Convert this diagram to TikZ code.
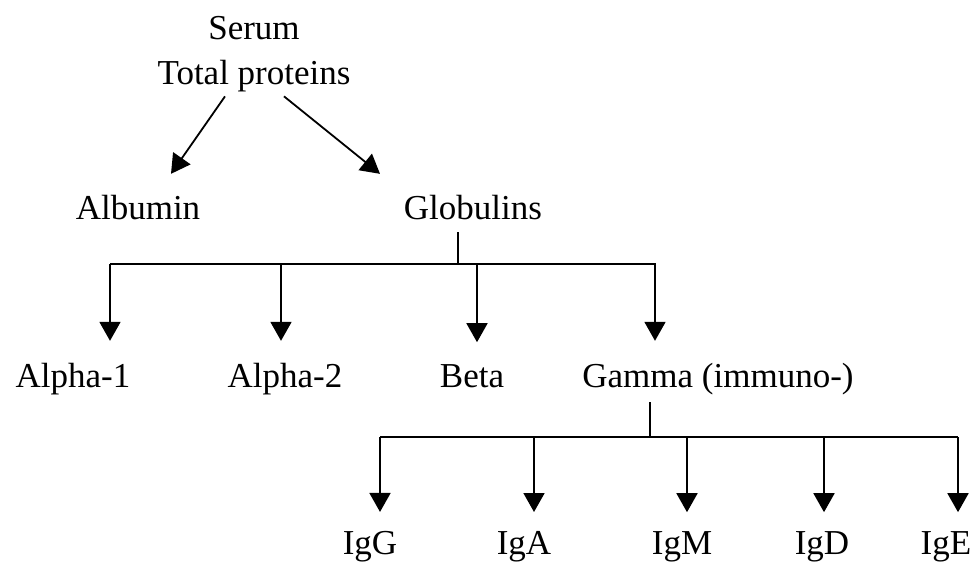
\documentclass[tikz,border=0pt]{standalone}
\usepackage{fontspec}
\setmainfont{Liberation Serif}
\usetikzlibrary{arrows.meta}
\begin{document}
\begin{tikzpicture}[x=1pt, y=-1pt, line width=1.8pt,
    every node/.style={inner sep=0pt, anchor=base, font=\fontsize{35}{45}\selectfont},
    arr/.style={-{Triangle[length=19pt, width=21pt]}, shorten >=21pt}]
    \useasboundingbox (0,0) rectangle (973,562);
    % ===== top: serum total proteins =====
    \node[align=center] (top) at (254,84) {Serum\\Total proteins};
    \node (alb) at (138,219) {Albumin};
    \node (glob) at (473,219) {Globulins};
    \draw[arr, shorten >=0pt] (225,0 |- top.south) ++(0,4) -- ([xshift=33pt,yshift=20pt]alb.north);
    \draw[arr, shorten >=0pt] (284,0 |- top.south) ++(0,4) -- ([xshift=-93pt,yshift=20pt]glob.north);

    % ===== globulin fractions =====
    \node (a1) at (73,387) {Alpha-1};
    \node (a2) at (285,387) {Alpha-2};
    \node (be) at (472,387) {Beta};
    \node (ga) at (718,387) {Gamma (immuno-)};
    \coordinate (gbus) at (458,264);
    \draw (458,0 |- glob.south) ++(0,12) -- (gbus);
    \draw (110,264) -- (656,264);
    \foreach \n/\x in {a1/110, a2/281, be/477, ga/655}
        \draw[arr] (\x,264) -- (\x,0 |- \n.north);

    % ===== immunoglobulins =====
    \node (igg) at (370,554) {IgG};
    \node (iga) at (524,554) {IgA};
    \node (igm) at (682,554) {IgM};
    \node (igd) at (822,554) {IgD};
    \node (ige) at (946,554) {IgE};
    \coordinate (ibus) at (650,437);
    \draw (650,0 |- ga.south) ++(0,7) -- (ibus);
    \draw (380,437) -- (958,437);
    \foreach \n/\x in {igg/380, iga/534, igm/687, igd/824, ige/958}
        \draw[arr, shorten >=18pt] (\x,437) -- (\x,0 |- \n.north);
\end{tikzpicture}
\end{document}
